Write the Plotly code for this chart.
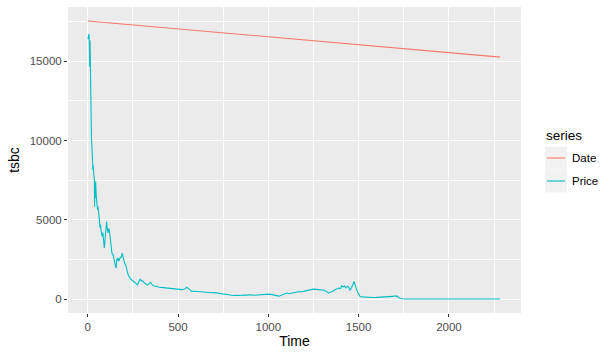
import plotly.graph_objects as go

# Date series (days since epoch): straight descending line
date_t = [1, 2283]
date_v = [17540, 15258]

# Price series (time, value)
price_points = [
    (1, 16400), (3, 16600), (5, 16700), (7, 16720), (9, 16200), (11, 14650), (13, 16300),
    (15, 13200), (18, 10860), (21, 10100), (23, 9700), (25, 9400), (27, 8700), (29, 8150),
    (31, 8400), (33, 8000), (35, 7700), (37, 7470), (38, 5830), (40, 7200), (43, 6400),
    (44, 7410), (46, 6800), (48, 6400), (50, 6000), (52, 5830), (55, 5630), (57, 5830),
    (59, 5420), (62, 5500), (65, 5000), (68, 4500), (71, 4700), (74, 4370), (77, 4150),
    (80, 3950), (84, 4200), (87, 3950), (89, 3740), (92, 3230), (95, 3600), (98, 3900),
    (101, 4370), (103, 4700), (105, 4890), (107, 4600), (109, 4500), (112, 4170), (116, 4450),
    (120, 4300), (124, 3950), (128, 3500), (131, 3000), (134, 2920), (138, 2800), (142, 2790),
    (145, 2550), (148, 2400), (151, 2280), (154, 2150), (157, 1950), (160, 2300), (163, 2580),
    (166, 2450), (170, 2550), (173, 2400), (176, 2480), (180, 2650), (184, 2600), (188, 2790),
    (192, 2900), (195, 2700), (198, 2500), (201, 2350), (205, 2250), (210, 2160), (215, 1900),
    (220, 1700), (225, 1500), (230, 1420), (234, 1320), (238, 1260), (243, 1220), (248, 1150),
    (252, 1110), (257, 1080), (262, 1050), (266, 980), (270, 950), (275, 900), (280, 1000),
    (285, 1150), (290, 1260), (295, 1200), (300, 1120), (305, 1150), (310, 1050), (316, 1000),
    (322, 960), (330, 900), (336, 930), (342, 990), (349, 1050), (354, 950), (358, 880),
    (363, 840), (370, 830), (380, 780), (392, 760), (405, 740), (418, 720), (430, 700),
    (440, 690), (452, 680), (465, 660), (478, 640), (490, 630), (500, 610), (511, 590),
    (522, 600), (532, 620), (540, 650), (548, 750), (553, 680), (560, 640), (568, 570),
    (576, 480), (590, 490), (605, 470), (620, 450), (635, 440), (648, 430), (659, 420),
    (672, 410), (688, 400), (700, 410), (715, 390), (730, 380), (745, 360), (760, 330),
    (775, 300), (790, 260), (806, 230), (818, 250), (830, 240), (845, 230), (860, 260),
    (880, 250), (900, 270), (920, 240), (940, 270), (960, 290), (980, 300), (1000, 315),
    (1015, 300), (1030, 260), (1045, 210), (1058, 190), (1065, 210), (1075, 260), (1090, 300),
    (1102, 380), (1115, 340), (1130, 390), (1145, 420), (1160, 450), (1176, 480), (1190, 470),
    (1205, 520), (1220, 560), (1235, 600), (1250, 630), (1265, 610), (1280, 600), (1296, 590),
    (1310, 560), (1322, 470), (1332, 380), (1342, 430), (1355, 480), (1369, 590), (1380, 640),
    (1392, 700), (1400, 660), (1406, 840), (1414, 760), (1422, 820), (1430, 700), (1438, 800),
    (1446, 760), (1452, 545), (1460, 700), (1468, 950), (1475, 1110), (1480, 900), (1485, 700),
    (1490, 480), (1496, 400), (1502, 300), (1508, 165), (1520, 140), (1535, 120), (1550, 110),
    (1563, 100), (1580, 105), (1600, 110), (1620, 125), (1640, 115), (1655, 120), (1668, 150),
    (1680, 130), (1690, 170), (1700, 210), (1706, 160), (1711, 200), (1716, 130), (1722, 100),
    (1730, 60), (1739, 20), (1760, 10), (1800, 8), (1900, 6), (2000, 5), (2100, 5), (2200, 5),
    (2283, 5),
]
price_t = [p[0] for p in price_points]
price_v = [p[1] for p in price_points]

fig = go.Figure()
fig.add_trace(go.Scatter(x=date_t, y=date_v, mode="lines", name="Date", showlegend=False,
                         line=dict(color="#F8766D", width=1.1)))
fig.add_trace(go.Scatter(x=price_t, y=price_v, mode="lines", name="Price", showlegend=False,
                         line=dict(color="#00BFC4", width=1.1)))

axis_common = dict(showline=False, zeroline=False, gridcolor="white", gridwidth=1.1,
                   ticks="outside", ticklen=3, tickcolor="#333333", tickwidth=1,
                   tickfont=dict(size=11.5, color="#4D4D4D", family="Arial, Liberation Sans"))
fig.update_layout(
    width=613, height=357,
    margin=dict(l=68, r=92, t=7, b=44),
    plot_bgcolor="#EBEBEB", paper_bgcolor="white",
    font=dict(family="Arial, Liberation Sans", color="black"),
    showlegend=False,
    xaxis=dict(range=[-109, 2399], tickvals=[0, 500, 1000, 1500, 2000],
               ticktext=["0", "500", "1000", "1500", "2000"],
               minor=dict(tickvals=[250, 750, 1250, 1750, 2250], showgrid=True,
                          gridcolor="white", gridwidth=0.5, ticks=""),
               title=dict(text="Time", font=dict(size=14), standoff=4), **axis_common),
    yaxis=dict(range=[-877, 18420], tickvals=[0, 5000, 10000, 15000],
               ticktext=["0", "5000", "10000", "15000"],
               minor=dict(tickvals=[2500, 7500, 12500, 17500], showgrid=True,
                          gridcolor="white", gridwidth=0.5, ticks=""),
               title=dict(text="tsbc", font=dict(size=14), standoff=6), **axis_common),
)

# Manual ggplot-style legend (pixel positions converted to paper coords)
PW, PH, L, T = 453, 306, 68, 7
def px(x):
    return (x - L) / PW
def py(y):
    return 1 - (y - T) / PH

series_names = ["Date", "Price"]
series_colors = ["#F8766D", "#00BFC4"]
fig.add_annotation(x=px(544), y=py(135), xref="paper", yref="paper", text="series",
                   showarrow=False, xanchor="left", yanchor="middle",
                   font=dict(size=13.5, color="black"))
for i, (nm, col) in enumerate(zip(series_names, series_colors)):
    cy = 158 + 23 * i
    fig.add_shape(type="rect", xref="paper", yref="paper",
                  x0=px(545), x1=px(567), y0=py(cy - 11.5), y1=py(cy + 11.5),
                  fillcolor="#F2F2F2", line=dict(width=0), layer="below")
    fig.add_shape(type="line", xref="paper", yref="paper",
                  x0=px(547), x1=px(565), y0=py(cy), y1=py(cy),
                  line=dict(color=col, width=1.1))
    fig.add_annotation(x=px(570), y=py(cy), xref="paper", yref="paper", text=nm,
                       showarrow=False, xanchor="left", yanchor="middle",
                       font=dict(size=11.5, color="black"))

fig.write_html("out.html")
